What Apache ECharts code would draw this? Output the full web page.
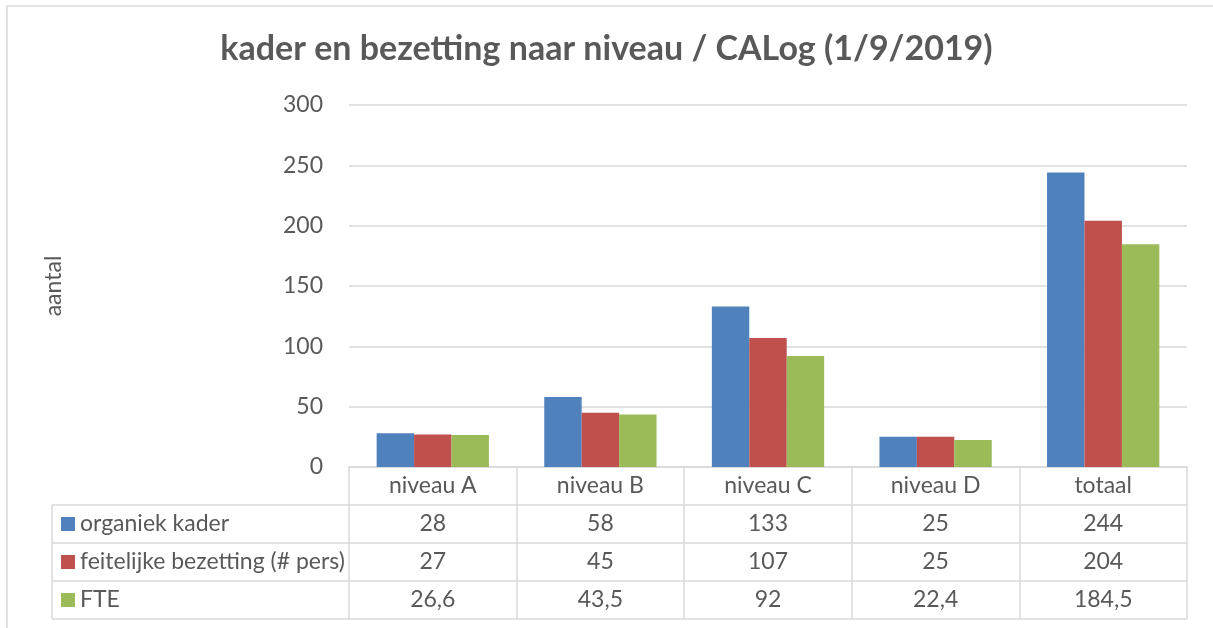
<!DOCTYPE html>
<html>
<head>
<meta charset="utf-8">
<title>kader en bezetting naar niveau / CALog (1/9/2019)</title>
<script src="https://cdn.jsdelivr.net/npm/echarts@6/dist/echarts.min.js"></script>
<style>
  html, body { margin: 0; padding: 0; background: #fff; }
  #chart { width: 1213px; height: 628px; }
</style>
</head>
<body>
<div id="chart"></div>
<script>
const categories = ['niveau A', 'niveau B', 'niveau C', 'niveau D', 'totaal'];
const seriesNames = ['organiek kader', 'feitelijke bezetting (# pers)', 'FTE'];
const organiek = [28, 58, 133, 25, 244];
const bezetting = [27, 45, 107, 25, 204];
const fte = [26.6, 43.5, 92, 22.4, 184.5];
const yMin = 0, yMax = 300, yStep = 50;

// Excel 2007 palette + greys
const COLORS = ['#4F81BD', '#C0504D', '#9BBB59'];
const TEXT = '#595959';
const LINE = '#d9d9d9';
const FONT = 'Lato, "Open Sans", sans-serif';

// layout
const GRID_LEFT = 349, GRID_RIGHT = 26, GRID_TOP = 105, GRID_BOTTOM = 161;
const ROW_H = 38;
const TABLE_LEFT = 52;
const W = 1213, H = 628;
const AXIS_Y = H - GRID_BOTTOM;

// Dutch decimal comma
const fmt = v => String(v).replace('.', ',');

const rows = [organiek, bezetting, fte];

const chart = echarts.init(document.getElementById('chart'), null, { renderer: 'canvas' });

// One category axis per table row; the first carries the category names,
// the next ones print the series values, the last one only closes the table.
const xAxes = [];
for (let r = 0; r <= rows.length + 1; r++) {
  const isLast = r === rows.length + 1;
  xAxes.push({
    type: 'category',
    data: categories,
    position: 'bottom',
    offset: r * ROW_H,
    axisLine: { show: true, lineStyle: { color: LINE, width: 1.5 } },
    axisTick: { show: !isLast, length: ROW_H, lineStyle: { color: LINE, width: 1.5 } },
    axisLabel: {
      show: !isLast,
      color: TEXT, fontFamily: FONT, fontSize: 23,
      verticalAlign: 'middle', margin: ROW_H / 2,
      formatter: (v, i) => r === 0 ? v : fmt(rows[r - 1][i]),
    },
    splitLine: { show: false },
  });
}

// left column of the data table (series names) — frame lines
const leftLines = [];
for (let r = 1; r <= rows.length + 1; r++) {
  const y = AXIS_Y + r * ROW_H;
  leftLines.push({
    type: 'line', silent: true,
    shape: { x1: TABLE_LEFT, y1: y, x2: GRID_LEFT, y2: y },
    style: { stroke: LINE, lineWidth: 1.5 },
  });
}
leftLines.push({
  type: 'line', silent: true,
  shape: { x1: TABLE_LEFT, y1: AXIS_Y + ROW_H, x2: TABLE_LEFT, y2: AXIS_Y + (rows.length + 1) * ROW_H },
  style: { stroke: LINE, lineWidth: 1.5 },
});

const option = {
  backgroundColor: '#fff',
  animation: false,
  color: COLORS,
  textStyle: { fontFamily: FONT, color: TEXT },
  title: {
    text: 'kader en bezetting naar niveau / CALog (1/9/2019)',
    left: 'center',
    top: 32,
    padding: [0, 0, 0, 12],
    textStyle: { fontFamily: FONT, fontSize: 34, fontWeight: 'bold', color: TEXT },
  },
  legend: {
    data: seriesNames,
    orient: 'vertical',
    left: 61,
    top: AXIS_Y + ROW_H,
    padding: 0,
    itemGap: 0,
    itemWidth: 14,
    itemHeight: 14,
    icon: 'rect',
    selectedMode: false,
    textStyle: { color: TEXT, fontFamily: FONT, fontSize: 23, lineHeight: ROW_H },
  },
  grid: { left: GRID_LEFT, right: GRID_RIGHT, top: GRID_TOP, bottom: GRID_BOTTOM, containLabel: false },
  xAxis: xAxes,
  yAxis: {
    type: 'value',
    min: yMin, max: yMax, interval: yStep,
    name: 'aantal',
    nameLocation: 'middle',
    nameGap: 284,
    nameRotate: 90,
    nameTextStyle: { color: TEXT, fontFamily: FONT, fontSize: 23 },
    axisLine: { show: false },
    axisTick: { show: false },
    axisLabel: { color: TEXT, fontFamily: FONT, fontSize: 23, margin: 26 },
    splitLine: { lineStyle: { color: LINE, width: 1.5 } },
  },
  series: seriesNames.map((name, i) => ({
    name,
    type: 'bar',
    xAxisIndex: 0,
    barGap: '0%',
    barCategoryGap: '33%',
    data: rows[i],
    itemStyle: { color: COLORS[i] },
  })),
  graphic: [
    {
      type: 'rect', silent: true,
      shape: { x: 7, y: 6, width: W + 20, height: H + 20 },
      style: { fill: null, stroke: LINE, lineWidth: 1.5 },
    },
    ...leftLines,
  ],
};

chart.setOption(option);
window.addEventListener('resize', () => chart.resize());
</script>
</body>
</html>
